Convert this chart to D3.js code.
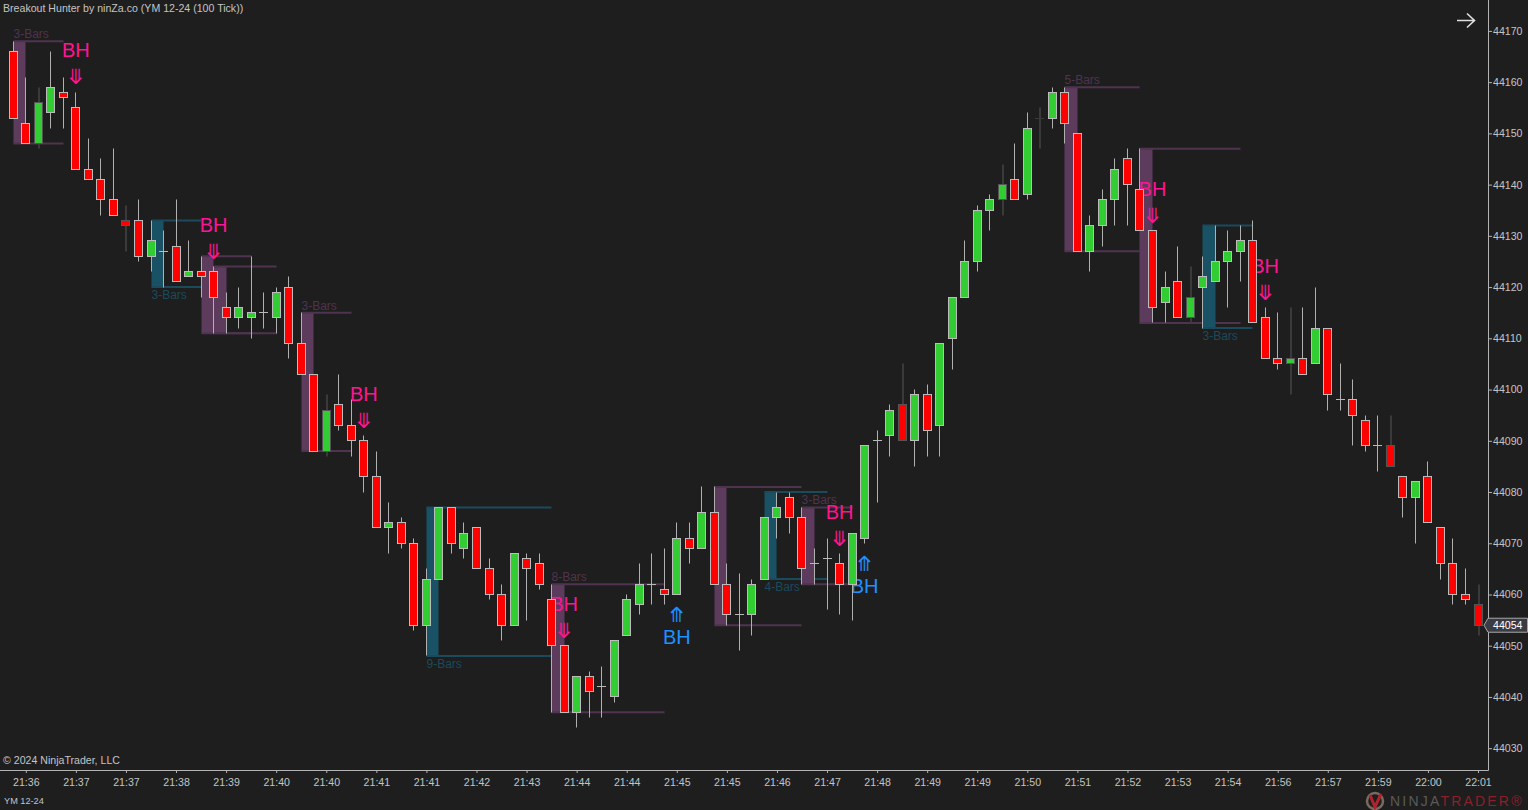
<!DOCTYPE html>
<html>
<head>
<meta charset="utf-8">
<script src="https://cdn.jsdelivr.net/npm/d3@7"></script>
<style>
  html, body { margin: 0; padding: 0; background: #1e1e1e; overflow: hidden; }
  text { font-family: "Liberation Sans", Arial, sans-serif; }
</style>
</head>
<body>
<div id="chart"></div>
<script>
// bar values, one entry per 100 tick bar
var opens = [44166,44152,44148,44154,44158,44155,44143,44141,44137,44133,44133,44126,44127,44128,44122,44123,44123,44116,44114,44114,44115,44114,44120,44109,44103,44088,44097,44093,44090,44083,44073,44074,44070,44054,44063,44077,44069,44073,44065,44060,44054,44067,44066,44059,44050,44037,44044,44042,44040,44052,44058,44062,44061,44060,44071,44069,44076,44062,44056,44056,44063,44075,44079,44075,44066,44067,44066,44062,44071,44090,44091,44097,44090,44099,44093,44110,44118,44125,44135,44137,44141,44138,44153,44153,44158,44150,44127,44132,44137,44145,44139,44131,44117,44121,44114,44120,44121,44125,44127,44129,44114,44106,44105,44106,44105,44112,44098,44098,44094,44089,44089,44083,44079,44083,44073,44066,44060,44058];
var highs = [44168,44161,44159,44166,44161,44158,44149,44145,44147,44136,44137,44133,44131,44137,44129,44126,44124,44119,44120,44126,44119,44120,44122,44115,44103,44099,44103,44098,44091,44088,44078,44075,44071,44065,44077,44077,44074,44073,44067,44062,44068,44068,44068,44062,44050,44044,44045,44046,44051,44060,44066,44068,44069,44074,44074,44081,44081,44066,44064,44063,44075,44080,44080,44077,44069,44071,44068,44072,44089,44092,44097,44105,44100,44101,44109,44118,44129,44136,44138,44144,44148,44154,44155,44159,44159,44150,44134,44139,44145,44147,44147,44131,44123,44128,44124,44126,44132,44131,44132,44133,44116,44115,44116,44116,44120,44112,44105,44102,44095,44095,44095,44083,44082,44086,44073,44071,44065,44062];
var lows = [44153,44148,44147,44151,44151,44143,44141,44134,44134,44127,44125,44123,44120,44121,44122,44118,44111,44111,44112,44110,44112,44111,44106,44103,44088,44087,44092,44087,44080,44073,44068,44069,44053,44048,44063,44068,44067,44065,44059,44051,44054,44055,44061,44037,44037,44034,44036,44036,44039,44052,44056,44058,44058,44060,44066,44069,44062,44054,44049,44052,44063,44071,44072,44062,44062,44057,44056,44055,44070,44078,44087,44090,44085,44087,44087,44104,44118,44123,44131,44134,44137,44137,44147,44151,44148,44127,44123,44128,44132,44132,44131,44113,44113,44114,44113,44112,44121,44116,44121,44113,44106,44104,44099,44103,44105,44096,44096,44089,44088,44084,44085,44075,44070,44074,44063,44058,44058,44052];
var closes = [44153,44148,44156,44159,44157,44143,44141,44137,44134,44132,44126,44129,44127,44121,44123,44122,44118,44114,44116,44115,44115,44119,44109,44103,44088,44096,44093,44090,44083,44073,44074,44070,44054,44063,44077,44070,44072,44065,44060,44054,44068,44065,44062,44050,44037,44044,44041,44042,44051,44059,44062,44062,44060,44071,44069,44076,44062,44056,44056,44062,44075,44077,44075,44065,44066,44067,44062,44072,44089,44090,44096,44090,44099,44092,44109,44118,44125,44135,44137,44140,44137,44151,44153,44158,44152,44127,44132,44137,44143,44140,44131,44116,44120,44114,44118,44122,44125,44127,44129,44113,44106,44105,44106,44103,44112,44099,44098,44095,44089,44089,44085,44079,44082,44074,44066,44060,44059,44054];

var timeLabels = ["21:36","21:37","21:37","21:38","21:39","21:40","21:40","21:41","21:41","21:42","21:43","21:44","21:44","21:45","21:45","21:46","21:47","21:48","21:49","21:49","21:50","21:51","21:52","21:53","21:54","21:56","21:57","21:59","22:00","22:01"];
var priceTicks = [44030,44040,44050,44060,44070,44080,44090,44100,44110,44120,44130,44140,44150,44160,44170];
var lastPrice = 44054;

// breakout ranges: first bar, last bar of the lines, top, bottom
var rangeStart = [0,11,15,16,23,33,43,56,60,63,84,90,95];
var rangeEnd   = [4,15,19,21,27,43,52,63,65,67,90,98,99];
var rangeTop   = [44168,44133,44126,44124,44115,44077,44062,44081,44080,44077,44159,44147,44132];
var rangeBot   = [44148,44120,44111,44111,44088,44048,44037,44054,44063,44062,44127,44113,44112];
var rangeKind  = ["d","u","d","d","d","u","d","d","u","d","d","d","u"];
var rangeLabel = ["3-Bars","3-Bars","","","3-Bars","9-Bars","8-Bars","","4-Bars","3-Bars","5-Bars","","3-Bars"];

var sellSignals = [5,16,28,44,66,91,100];
var buySignals = [53,68];

// bars that landed between two pixels, they come out soft
var softBars = [2,9,25,71,79,82,94,102,110,117];

var width = 1528, height = 810;
var plotRight = 1488, plotBottom = 770;
var bg = "#1e1e1e", axisColor = "#b4b4b4", textColor = "#c4c4c4";
var purple = "#5c3b5c", purpleLine = "#4f344f", blue = "#1a5265", blueLine = "#1b4a5c";
var pink = "#ff1493", azure = "#1e90ff";

var svg = d3.select("#chart").append("svg")
    .attr("width", width).attr("height", height)
    .style("display", "block").style("background", bg);

var x = d3.scaleLinear().domain([0, opens.length - 1]).range([13.3, 1478]);
var y = d3.scaleLinear().domain([44030, 44170]).range([748.2, 30.9]);

function px(i) { return Math.floor(x(i)) + 0.5; }
function py(v) { return Math.floor(y(v)) + 0.5; }
function soft(i) { return softBars.indexOf(i) >= 0; }

// ranges go at the back
var ranges = svg.append("g");
rangeStart.forEach(function(s, k) {
    var fill = rangeKind[k] == "d" ? purple : blue;
    var line = rangeKind[k] == "d" ? purpleLine : blueLine;
    var top = y(rangeTop[k]), bot = y(rangeBot[k]);
    ranges.append("rect")
        .attr("x", px(s)).attr("y", top)
        .attr("width", px(s + 1) - px(s)).attr("height", bot - top)
        .attr("fill", fill);
    [top, bot].forEach(function(v) {
        ranges.append("line")
            .attr("x1", px(s)).attr("x2", px(rangeEnd[k]))
            .attr("y1", v).attr("y2", v)
            .attr("stroke", line).attr("stroke-width", 2);
    });
    if (rangeLabel[k]) {
        ranges.append("text")
            .attr("x", px(s))
            .attr("y", rangeKind[k] == "d" ? top - 3 : bot + 12)
            .attr("font-size", 12).attr("fill", line)
            .text(rangeLabel[k]);
    }
});

// signals, also behind the candles
var signals = svg.append("g").attr("text-anchor", "middle");
sellSignals.forEach(function(i) {
    var base = y(highs[i]);
    signals.append("text").attr("x", x(i)).attr("y", base - 16 + 8)
        .attr("font-size", 21).attr("fill", pink)
        .style("font-family", "'DejaVu Sans'").text("\u290B");
    signals.append("text").attr("x", x(i)).attr("y", base - 42 + 7)
        .attr("font-size", 20).attr("fill", pink).text("BH");
});
buySignals.forEach(function(i) {
    var base = y(lows[i]);
    signals.append("text").attr("x", x(i)).attr("y", base + 20 + 8)
        .attr("font-size", 21).attr("fill", azure)
        .style("font-family", "'DejaVu Sans'").text("\u290A");
    signals.append("text").attr("x", x(i)).attr("y", base + 43 + 7)
        .attr("font-size", 20).attr("fill", azure).text("BH");
});

// candles
var bars = svg.append("g").selectAll("g").data(opens).enter().append("g");

bars.append("line")
    .attr("x1", function(d, i) { return px(i) + (soft(i) ? 0.5 : 0); })
    .attr("x2", function(d, i) { return px(i) + (soft(i) ? 0.5 : 0); })
    .attr("y1", function(d, i) { return py(highs[i]); })
    .attr("y2", function(d, i) { return py(lows[i]); })
    .attr("stroke", function(d, i) { return soft(i) ? "#3a3a3a" : "#b0b0b0"; })
    .attr("stroke-width", function(d, i) { return soft(i) ? 2 : 1; });

bars.each(function(d, i) {
    var g = d3.select(this);
    var cx = px(i);
    var t = py(Math.max(opens[i], closes[i])), b = py(Math.min(opens[i], closes[i]));
    if (opens[i] == closes[i]) {
        g.append("line").attr("x1", cx - 4.5).attr("x2", cx + 4.5)
            .attr("y1", t).attr("y2", t)
            .attr("stroke", soft(i) ? "#3a3a3a" : "#b8b8b8");
    } else {
        g.append("rect").attr("x", cx - 4).attr("y", t)
            .attr("width", 8).attr("height", b - t)
            .attr("fill", closes[i] > opens[i] ? "#32cd32" : "#ff0000")
            .attr("stroke", soft(i) ? "#555" : "#bcbcbc");
    }
});

// axes
var yAxis = d3.axisRight(y).tickValues(priceTicks).tickSize(4).tickPadding(1).tickFormat(d3.format("d"));
var gy = svg.append("g").attr("transform", "translate(" + plotRight + ",0)").call(yAxis);
gy.select(".domain").remove();

var tickBars = timeLabels.map(function(t, k) { return 1 + k * 4; });
var xAxis = d3.axisBottom(x).tickValues(tickBars).tickSize(3).tickPadding(5)
    .tickFormat(function(d, k) { return timeLabels[k]; });
var gx = svg.append("g").attr("transform", "translate(0," + plotBottom + ")").call(xAxis);
gx.select(".domain").remove();

[gy, gx].forEach(function(g) {
    g.selectAll("line").attr("stroke", axisColor);
    g.selectAll("text").attr("fill", textColor).attr("font-size", 10.6)
        .style("font-family", "'Liberation Sans', Arial, sans-serif");
});

svg.append("line").attr("x1", plotRight + 0.5).attr("x2", plotRight + 0.5)
    .attr("y1", 0).attr("y2", plotBottom + 0.5).attr("stroke", axisColor);
svg.append("line").attr("x1", 0).attr("x2", plotRight + 0.5)
    .attr("y1", plotBottom + 0.5).attr("y2", plotBottom + 0.5).attr("stroke", axisColor);

// last price flag
var ly = y(lastPrice);
svg.append("path")
    .attr("d", "M1484," + ly + "L1488," + (ly - 7) + "H1527.5V" + (ly + 7) + "H1488Z")
    .attr("fill", "#3b3b44").attr("stroke", "#a8a8a8");
svg.append("text").attr("x", 1493).attr("y", ly + 4)
    .attr("font-size", 10.6).attr("fill", "#ffffff").text(lastPrice);

// captions
svg.append("text").attr("x", 3).attr("y", 12).attr("font-size", 10.6).attr("fill", textColor)
    .text("Breakout Hunter by ninZa.co (YM 12-24 (100 Tick))");
svg.append("text").attr("x", 3).attr("y", 764).attr("font-size", 10.6).attr("fill", textColor)
    .text("\u00A9 2024 NinjaTrader, LLC");
svg.append("text").attr("x", 4).attr("y", 804).attr("font-size", 9.2).attr("fill", textColor)
    .text("YM 12-24");

// arrow top right
svg.append("path").attr("d", "M1457,20.5H1474M1467,13.5L1474.5,20.5L1467,27.5")
    .attr("fill", "none").attr("stroke", "#e0e0e0").attr("stroke-width", 1.6);

// logo bottom right
var logo = svg.append("g");
logo.append("circle").attr("cx", 1375).attr("cy", 801).attr("r", 8)
    .attr("fill", "none").attr("stroke", "#7a6a60").attr("stroke-width", 2.5);
logo.append("path").attr("d", "M1370,795L1375,807L1381,794").attr("fill", "none")
    .attr("stroke", "#b0232e").attr("stroke-width", 3);
var brand = logo.append("text").attr("x", 1390).attr("y", 806)
    .attr("font-size", 14).style("letter-spacing", "2.2px");
brand.append("tspan").attr("fill", "#5a5a5a").text("NINJA");
brand.append("tspan").attr("fill", "#8c2029").text("TRADER\u00AE");
</script>
</body>
</html>
